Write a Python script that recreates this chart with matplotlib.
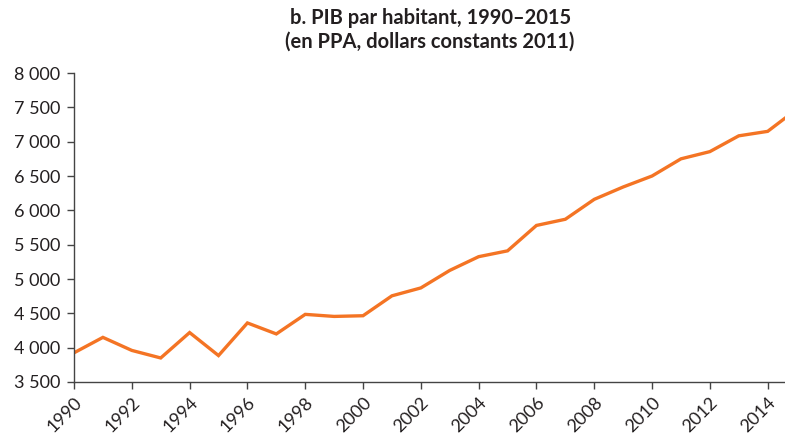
import matplotlib
matplotlib.use("Agg")
import matplotlib.pyplot as plt
from matplotlib.ticker import FuncFormatter

plt.rcParams['font.family'] = ['Lato', 'DejaVu Sans']

years = list(range(1990, 2016))
pib = [3925, 4150, 3960, 3850, 4220, 3885, 4360, 4200, 4485, 4455,
       4465, 4755, 4870, 5125, 5325, 5410, 5780, 5870, 6160, 6340,
       6500, 6750, 6855, 7085, 7150, 7470]

title = "b. PIB par habitant, 1990\u20132015\n(en PPA, dollars constants 2011)"

fig = plt.figure(figsize=(7.85, 4.42), dpi=100)
ax = fig.add_axes([74 / 785, 1 - 382 / 442, 1 - 74 / 785, (382 - 73) / 442])

ax.plot(years, pib, color="#F47424", lw=2.4, solid_joinstyle="miter", clip_on=True)

ax.set_xlim(1990, 2014.6)
ax.set_ylim(3500, 8000)
ax.set_xticks(range(1990, 2015, 2))
ax.set_yticks(range(3500, 8001, 500))
ax.yaxis.set_major_formatter(FuncFormatter(lambda v, p: f"{int(v):,}".replace(",", " ")))

for s in ["top", "right"]:
    ax.spines[s].set_visible(False)
for s in ["left", "bottom"]:
    ax.spines[s].set_color("#444444")
    ax.spines[s].set_linewidth(1.0)

ax.tick_params(axis="both", colors="#444444", labelcolor="#231F20", labelsize=13,
               length=5, width=1.0, direction="out")
ax.tick_params(axis="y", pad=5)
ax.tick_params(axis="x", pad=4)
for lab in ax.get_xticklabels():
    lab.set_rotation(45)
    lab.set_ha("right")
    lab.set_va("top")
    lab.set_rotation_mode("anchor")

fig.text(0.548, 0.933, title, ha="center", va="center", fontsize=14.5, fontweight="bold",
         color="#231F20", linespacing=1.25)

fig.savefig("out.png", dpi=100)
